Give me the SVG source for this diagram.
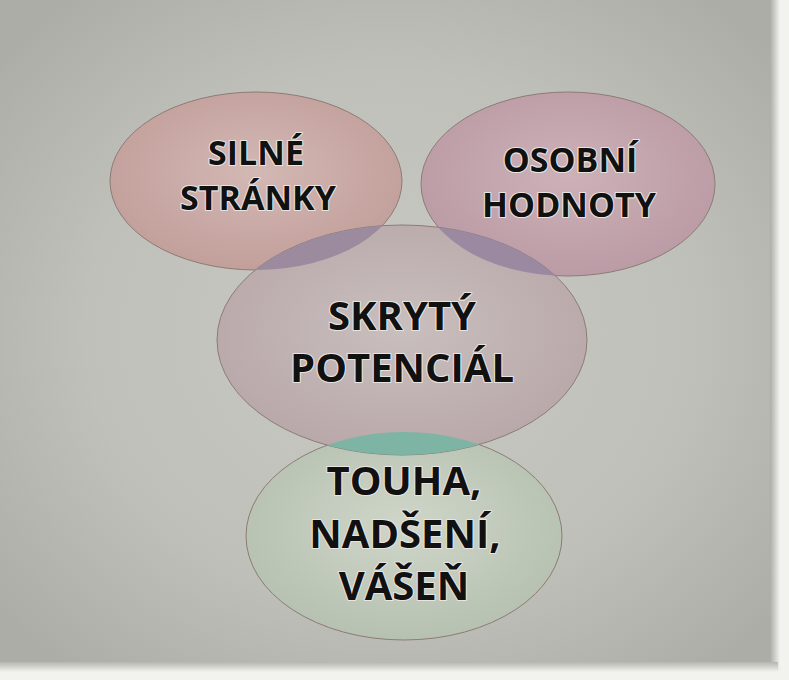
<svg xmlns="http://www.w3.org/2000/svg" width="789" height="680" viewBox="0 0 789 680">
<defs>
<radialGradient id="bg" cx="0.5" cy="0.5" r="0.65">
<stop offset="0" stop-color="#c9c9c4"/>
<stop offset="0.6" stop-color="#bfc0ba"/>
<stop offset="1" stop-color="#acada7"/>
</radialGradient>
<linearGradient id="edgeR" x1="0" x2="1" y1="0" y2="0">
<stop offset="0" stop-color="#acada7"/>
<stop offset="1" stop-color="#f2f2ee"/>
</linearGradient>
<linearGradient id="edgeB" x1="0" x2="0" y1="0" y2="1">
<stop offset="0" stop-color="#b5b6b0"/>
<stop offset="1" stop-color="#f2f2ee"/>
</linearGradient>
<radialGradient id="gS" cx="0.5" cy="0.45" r="0.55">
<stop offset="0" stop-color="#d3b8b4"/>
<stop offset="1" stop-color="#c29f9b"/>
</radialGradient>
<radialGradient id="gO" cx="0.5" cy="0.45" r="0.55">
<stop offset="0" stop-color="#cdb1b8"/>
<stop offset="1" stop-color="#bb9ba5"/>
</radialGradient>
<radialGradient id="gP" cx="0.5" cy="0.45" r="0.55">
<stop offset="0" stop-color="#c9bfbe"/>
<stop offset="1" stop-color="#b9a8a9"/>
</radialGradient>
<radialGradient id="gT" cx="0.5" cy="0.45" r="0.55">
<stop offset="0" stop-color="#cfd6c9"/>
<stop offset="1" stop-color="#b6c1b1"/>
</radialGradient>
<clipPath id="cP"><ellipse cx="402" cy="340" rx="185" ry="115"/></clipPath>
<style>
.e{stroke:#8c7c74;stroke-width:1}
.t{font-family:"Open Sans","Liberation Sans",sans-serif;font-weight:bold;fill:#111;stroke:#e8e4e0;stroke-width:2.2;paint-order:stroke;text-anchor:middle;stroke-linejoin:round}
</style>
</defs>
<rect x="0" y="0" width="789" height="680" fill="#f2f2ee"/>
<rect x="0" y="0" width="778" height="670" fill="url(#bg)"/>
<rect x="770" y="0" width="10" height="670" fill="url(#edgeR)"/>
<rect x="0" y="662" width="778" height="10" fill="url(#edgeB)"/>
<g id="silne-stranky">
<ellipse class="e" cx="256" cy="181" rx="146" ry="89" fill="url(#gS)"/>
<text class="t" x="256" y="165" font-size="34">SILNÉ</text>
<text class="t" x="258" y="210" font-size="34">STRÁNKY</text>
</g>
<g id="osobni-hodnoty">
<ellipse class="e" cx="568" cy="184" rx="147" ry="92" fill="url(#gO)"/>
<text class="t" x="570" y="172" font-size="34">OSOBNÍ</text>
<text class="t" x="569" y="217" font-size="34">HODNOTY</text>
</g>
<g id="touha">
<ellipse class="e" cx="404" cy="536" rx="158" ry="104" fill="url(#gT)"/>
</g>
<g id="skryty-potencial">
<ellipse class="e" cx="402" cy="340" rx="185" ry="115" fill="url(#gP)"/>
</g>
<g id="overlaps">
<ellipse cx="256" cy="181" rx="146" ry="89" fill="#9c8a9f" clip-path="url(#cP)"/>
<ellipse cx="568" cy="184" rx="147" ry="92" fill="#9a89a1" clip-path="url(#cP)"/>
<ellipse cx="404" cy="536" rx="158" ry="104" fill="#7db4a4" clip-path="url(#cP)"/>
</g>
<g id="labels">
<text class="t" x="402" y="330" font-size="40">SKRYTÝ</text>
<text class="t" x="402" y="382" font-size="40">POTENCIÁL</text>
<text class="t" x="404" y="495" font-size="40">TOUHA,</text>
<text class="t" x="405" y="548" font-size="40">NADŠENÍ,</text>
<text class="t" x="404" y="600" font-size="40">VÁŠEŇ</text>
</g>
</svg>
